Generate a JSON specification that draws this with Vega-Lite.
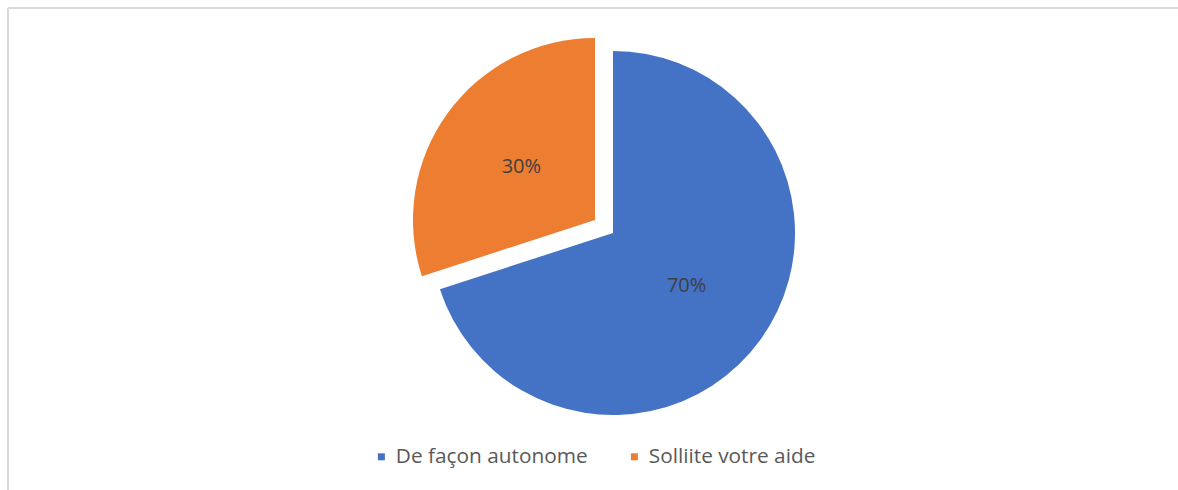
{
  "$schema": "https://vega.github.io/schema/vega-lite/v6.json",
  "autosize": "none",
  "width": 1170,
  "height": 482,
  "padding": {"left": 8, "top": 8, "right": 0, "bottom": 0},
  "background": "white",
  "config": {
    "view": {"stroke": "#d9d9d9", "strokeWidth": 2, "strokeDash": [1170, 1652, 482, 0]},
    "font": "Open Sans"
  },
  "data": {
    "values": [
      {"category": "De façon autonome", "value": 70, "label": "70%"},
      {"category": "Solliite votre aide", "value": 30, "label": "30%"}
    ]
  },
  "encoding": {
    "theta": {"field": "value", "type": "quantitative", "stack": true},
    "color": {
      "field": "category",
      "type": "nominal",
      "scale": {"domain": ["De façon autonome", "Solliite votre aide"], "range": ["#4472C4", "#ED7D31"]},
      "legend": {
        "title": null,
        "orient": "none",
        "direction": "horizontal",
        "legendX": 363,
        "legendY": 438,
        "symbolType": "square",
        "symbolSize": 49,
        "symbolStrokeWidth": 0,
        "symbolOpacity": 1,
        "labelFontSize": 20.8,
        "labelColor": "#595959",
        "labelOffset": 4,
        "columnPadding": 36,
        "labelLimit": 400,
        "encode": {"symbols": {"update": {"opacity": {"value": 1}}}}
      }
    }
  },
  "resolve": {"scale": {"opacity": "independent"}, "legend": {"opacity": "independent"}},
  "layer": [
    {
      "mark": {"type": "point", "opacity": 0},
      "encoding": {
        "x": {"datum": 0, "type": "quantitative", "axis": null},
        "y": {"datum": 0, "type": "quantitative", "axis": null},
        "theta": null,
        "color": null
      }
    },
    {
      "mark": {"type": "arc", "outerRadius": 182, "xOffset": 20, "yOffset": -16},
      "encoding": {
        "opacity": {"field": "category", "type": "nominal", "scale": {"domain": ["De façon autonome", "Solliite votre aide"], "range": [1, 0]}, "legend": null}
      }
    },
    {
      "mark": {"type": "arc", "outerRadius": 182, "xOffset": 2, "yOffset": -29},
      "encoding": {
        "opacity": {"field": "category", "type": "nominal", "scale": {"domain": ["De façon autonome", "Solliite votre aide"], "range": [0, 1]}, "legend": null}
      }
    },
    {
      "mark": {"type": "text", "radius": 91, "xOffset": 20, "yOffset": -16, "fontSize": 20, "color": "#404040"},
      "encoding": {
        "text": {"field": "label"},
        "color": {"value": "#404040"},
        "opacity": {"field": "category", "type": "nominal", "scale": {"domain": ["De façon autonome", "Solliite votre aide"], "range": [1, 0]}, "legend": null}
      }
    },
    {
      "mark": {"type": "text", "radius": 91, "xOffset": 2, "yOffset": -29, "fontSize": 20, "color": "#404040"},
      "encoding": {
        "text": {"field": "label"},
        "color": {"value": "#404040"},
        "opacity": {"field": "category", "type": "nominal", "scale": {"domain": ["De façon autonome", "Solliite votre aide"], "range": [0, 1]}, "legend": null}
      }
    }
  ]
}
